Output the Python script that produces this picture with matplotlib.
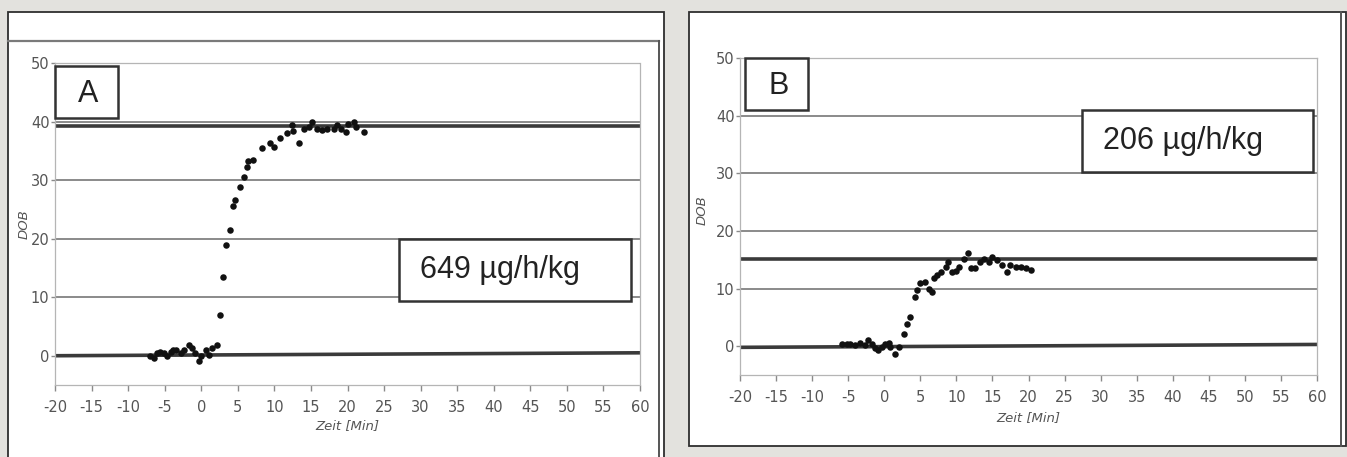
import matplotlib.pyplot as plt
from matplotlib.patches import Rectangle
from matplotlib.lines import Line2D
import numpy as np

plt.rcParams['axes.unicode_minus'] = False

W, H = 1347, 457

# ---- data ----
a_x = [-7.0, -6.5, -6.0, -5.6, -5.1, -4.7, -4.2, -3.8, -3.5, -2.8, -2.4, -1.7, -1.2, -0.8,
       -0.3, 0.0, 0.6, 1.1, 1.5, 2.2,
       2.5, 3.0, 3.4, 3.9, 4.3, 4.6, 5.3, 5.8, 6.2, 6.4, 7.1, 8.3, 9.4, 9.9, 10.8, 11.7,
       12.4, 12.6, 13.4, 14.0, 14.7, 15.1, 15.8, 16.5, 17.2, 18.1, 18.6, 19.1, 19.8, 20.0,
       20.9, 21.1, 22.3]
a_y = [0.0, -0.4, 0.5, 0.7, 0.5, -0.1, 0.6, 1.0, 0.9, 0.5, 1.0, 1.9, 1.3, 0.5,
       -0.9, -0.1, 1.0, 0.2, 1.3, 1.9,
       7.0, 13.4, 18.9, 21.4, 25.5, 26.6, 28.8, 30.6, 32.3, 33.2, 33.5, 35.4, 36.3, 35.7, 37.2, 38.0,
       39.4, 38.3, 36.3, 38.8, 39.1, 39.9, 38.8, 38.5, 38.7, 38.8, 39.4, 38.8, 38.2, 39.6,
       39.9, 39.1, 38.2]

b_x = [-5.9, -5.2, -4.7, -4.0, -3.3, -2.6, -2.2, -1.7, -1.25, -0.8, -0.3, 0.1, 0.6, 0.8,
       1.5, 2.0, 2.7, 3.15, 3.6, 4.3, 4.5, 5.0, 5.7, 6.15, 6.6, 6.85, 7.3, 7.8, 8.5, 8.9,
       9.4, 9.9, 10.3, 11.0, 11.6, 12.0, 12.6, 13.3, 13.8, 14.5, 14.95, 15.65, 16.35, 17.0,
       17.5, 18.2, 18.9, 19.6, 20.3]
b_y = [0.35, 0.35, 0.46, 0.17, 0.58, 0.17, 1.04, 0.46, -0.4, -0.7, -0.1, 0.46, 0.58, -0.2,
       -1.27, -0.1, 2.2, 3.9, 5.1, 8.6, 9.7, 10.9, 11.2, 10.0, 9.4, 11.75, 12.3, 12.9, 13.8, 14.6,
       12.9, 13.0, 13.8, 15.2, 16.1, 13.5, 13.5, 14.6, 15.2, 14.6, 15.4, 14.9, 14.0, 12.9,
       14.0, 13.8, 13.8, 13.5, 13.2]

a_levels = [(0.0, 0.5), (39.3, 39.3)]   # baseline / plateau lines (left end, right end)
b_levels = [(-0.2, 0.3), (15.2, 15.2)]

panels = ["A", "B"]
doses = ["649 µg/h/kg", "206 µg/h/kg"]
xticks = list(range(-20, 61, 5))
yticks = list(range(0, 51, 10))

fig = plt.figure(figsize=(W / 100, H / 100), dpi=100)
fig.patch.set_facecolor("#e3e2de")

def fx(px):
    return px / W

def fy(py):
    return 1 - py / H

def frame(x0, y0, x1, y1, **kw):
    fig.add_artist(Rectangle((fx(x0), fy(y1)), fx(x1) - fx(x0), fy(y0) - fy(y1),
                             transform=fig.transFigure, **kw))

def fline(xs, ys, **kw):
    fig.add_artist(Line2D([fx(v) for v in xs], [fy(v) for v in ys],
                          transform=fig.transFigure, **kw))

# panel frames (behind the axes)
frame(8, 12, 664, 470, facecolor="white", edgecolor="#2e2e2e", lw=1.3, zorder=-2)
fline([8, 659], [41, 41], color="#7a7a7a", lw=1.6, zorder=-1)
fline([659, 659], [41, 457], color="#555555", lw=1.4, zorder=-1)
frame(689, 12, 1346, 446, facecolor="white", edgecolor="#2e2e2e", lw=1.3, zorder=-2)
fline([1341, 1341], [12, 446], color="#555555", lw=1.4, zorder=-1)

tick_font = "DejaVu Sans"

def draw(ax, xs, ys, levels, label, dose, lbox, dbox, dtext, ylab_pos, xlab_y):
    ax.set_xlim(-20, 60)
    ax.set_ylim(-5, 50)
    for g in [10, 20, 30, 40, 50]:
        ax.axhline(g, color="#8a8a8a", lw=1.4, zorder=1)
    for lv in levels:
        ax.plot([-20, 60], lv, color="#3a3a3a", lw=2.6, zorder=2, solid_capstyle="butt")
    ax.scatter(xs, ys, s=22, color="#111111", zorder=3, linewidths=0)
    for s in ax.spines.values():
        s.set_color("#b5b5b5")
        s.set_linewidth(0.9)
        s.set_linestyle((0, (3, 1)))
    ax.set_xticks(xticks)
    ax.set_yticks(yticks)
    ax.tick_params(direction="out", width=1, color="#8a8a8a",
                   labelcolor="#555555", labelsize=10.5)
    ax.tick_params(axis="x", length=4, pad=7)
    ax.tick_params(axis="y", length=3, pad=1)
    for t in ax.get_xticklabels() + ax.get_yticklabels():
        t.set_family(tick_font)
    ax.set_xlabel("Zeit [Min]", fontsize=9.5, style="italic", color="#555555", family=tick_font)
    ax.set_ylabel("DOB", fontsize=9.5, style="italic", color="#555555", family=tick_font)
    ax.xaxis.set_label_coords(0.5, xlab_y)
    ax.yaxis.set_label_coords(*ylab_pos)
    ax.set_facecolor("none")

    for (x0, y0, x1, y1), txt, tpos in [(lbox, label, None), (dbox, dose, dtext)]:
        frame(x0, y0, x1, y1, facecolor="white", edgecolor="#333333", lw=1.8, zorder=5)
        cx, cy = tpos if tpos else ((x0 + x1) / 2 + 2, (y0 + y1) / 2 + 2)
        fig.text(fx(cx), fy(cy), txt, fontsize=22, color="#222222", family="Liberation Sans",
                 ha="center", va="center", zorder=6)

ax_a = fig.add_axes([fx(55), fy(385), fx(640) - fx(55), fy(63) - fy(385)])
ax_b = fig.add_axes([fx(740), fy(375), fx(1317) - fx(740), fy(58) - fy(375)])

draw(ax_a, a_x, a_y, a_levels, panels[0], doses[0],
     (55, 66, 118, 118), (399, 239, 631, 301), (500, 270), (-0.042, 0.5), -0.105)
draw(ax_b, b_x, b_y, b_levels, panels[1], doses[1],
     (745, 58, 808, 110), (1082, 110, 1313, 172), (1183, 141), (-0.054, 0.52), -0.115)

fig.savefig("out.png", dpi=100, facecolor=fig.get_facecolor())
